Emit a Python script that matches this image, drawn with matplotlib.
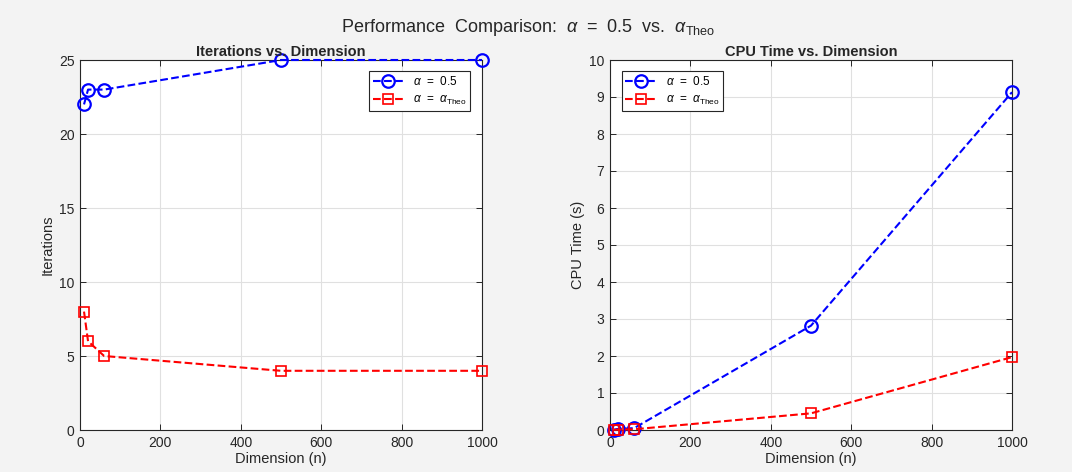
import numpy as np
import matplotlib
matplotlib.use('Agg')
import matplotlib.pyplot as plt

# data
dims = [10, 20, 60, 500, 1000]
iters_half = [22, 23, 23, 25, 25]
iters_theo = [8, 6, 5, 4, 4]
cpu_half = [0.01, 0.03, 0.05, 2.82, 9.13]
cpu_theo = [0.005, 0.01, 0.02, 0.45, 1.97]

lbl_half = r'$\alpha$  =  0.5'
lbl_theo = r'$\alpha$  =  $\alpha_{\mathrm{Theo}}$'

plt.rcParams['font.family'] = ['Liberation Sans', 'DejaVu Sans']
plt.rcParams['mathtext.fontset'] = 'custom'
plt.rcParams['mathtext.rm'] = 'Liberation Sans'
plt.rcParams['mathtext.it'] = 'Liberation Sans:italic'
plt.rcParams['mathtext.bf'] = 'Liberation Sans:bold'

txt = '#262626'
bg = '#f3f3f3'

fig = plt.figure(figsize=(10.72, 4.72), dpi=100, facecolor=bg)
ax1 = fig.add_axes([80/1072, 42/472, 402/1072, 370/472])
ax2 = fig.add_axes([610/1072, 42/472, 402/1072, 370/472])

def style(ax, title, ylabel, ylim, yticks):
    ax.set_xlim(0, 1000)
    ax.set_ylim(*ylim)
    ax.set_xticks(np.arange(0, 1001, 200))
    ax.set_yticks(yticks)
    ax.set_title(title, fontsize=10.5, fontweight='bold', color=txt, pad=3)
    ax.set_xlabel('Dimension (n)', fontsize=10.5, color=txt, labelpad=2)
    ax.set_ylabel(ylabel, fontsize=10.5, color=txt, labelpad=3)
    ax.grid(True, color='#e0e0e0', linewidth=0.8)
    ax.set_axisbelow(True)
    ax.tick_params(direction='in', top=True, right=True, labelsize=10,
                   colors='#262626', length=4, width=0.7, pad=4)
    for s in ax.spines.values():
        s.set_color('#262626')
        s.set_linewidth(0.8)

def add_lines(ax, y_half, y_theo):
    ax.plot(dims, y_half, 'o--', color='blue', mfc='none', ms=9, mew=1.6, lw=1.5,
            label=lbl_half, clip_on=False, zorder=3)
    ax.plot(dims, y_theo, 's--', color='red', mfc='none', ms=7, mew=1.2, lw=1.5,
            label=lbl_theo, clip_on=False, zorder=3)

add_lines(ax1, iters_half, iters_theo)
style(ax1, 'Iterations vs. Dimension', 'Iterations', (0, 25), np.arange(0, 26, 5))
leg1 = ax1.legend(loc='upper right', fontsize=8.5, fancybox=False, framealpha=1,
                  edgecolor='#262626', borderpad=0.3, handlelength=2.6,
                  bbox_to_anchor=(0.985, 0.985))
leg1.get_frame().set_linewidth(0.8)

add_lines(ax2, cpu_half, cpu_theo)
style(ax2, 'CPU Time vs. Dimension', 'CPU Time (s)', (0, 10), np.arange(0, 11, 1))
leg2 = ax2.legend(loc='upper left', fontsize=8.5, fancybox=False, framealpha=1,
                  edgecolor='#262626', borderpad=0.3, handlelength=2.6,
                  bbox_to_anchor=(0.015, 0.985))
leg2.get_frame().set_linewidth(0.8)

fig.suptitle(r'Performance  Comparison:  $\alpha$  =  0.5  vs.  $\alpha_{\mathrm{Theo}}$',
             fontsize=13, color=txt, x=0.493, y=0.965)

fig.savefig('out.png', dpi=100, facecolor=bg)
